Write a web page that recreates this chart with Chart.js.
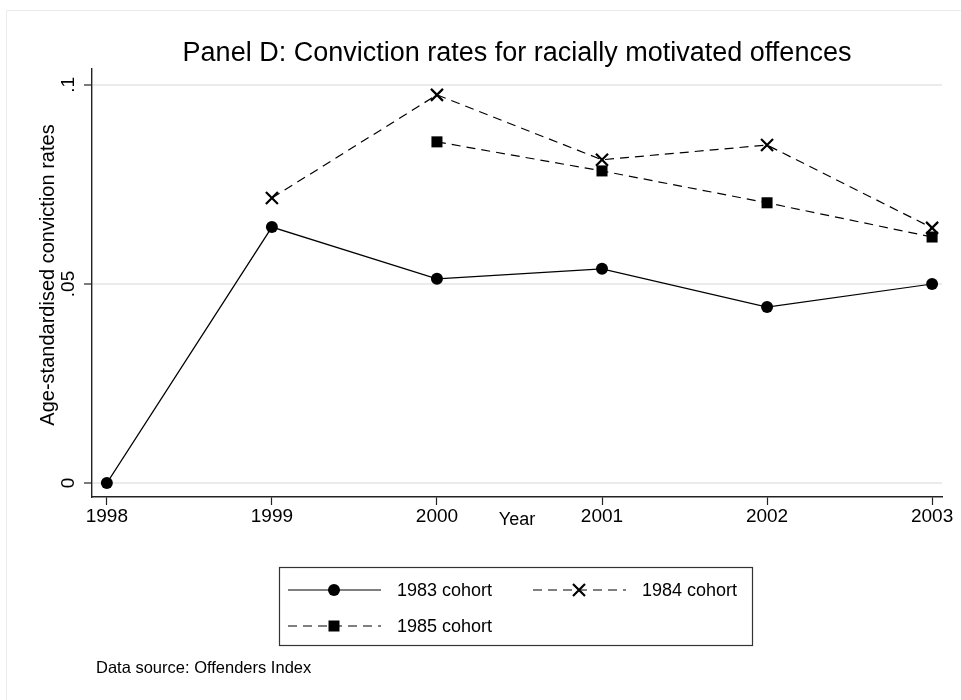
<!DOCTYPE html>
<html>
<head>
<meta charset="utf-8">
<title>Panel D: Conviction rates for racially motivated offences</title>
<script src="https://cdn.jsdelivr.net/npm/chart.js@4.4.1/dist/chart.umd.min.js"></script>
<style>
  html, body { margin: 0; padding: 0; background: #fff; }
  #wrap { width: 961px; height: 700px; position: relative; }
</style>
</head>
<body>
<div id="wrap"><canvas id="convictionChart" width="961" height="700"></canvas></div>
<script>
// Age-standardised conviction rates by cohort
const years = [1998, 1999, 2000, 2001, 2002, 2003];
const cohort1983Years = [1998, 1999, 2000, 2001, 2002, 2003];
const cohort1983 = [0, 0.0643, 0.0513, 0.0538, 0.0442, 0.0500];
const cohort1984Years = [1999, 2000, 2001, 2002, 2003];
const cohort1984 = [0.0716, 0.0975, 0.0812, 0.0849, 0.0641];
const cohort1985Years = [2000, 2001, 2002, 2003];
const cohort1985 = [0.0857, 0.0784, 0.0704, 0.0618];
const yTicks = [0, 0.05, 0.1];
const yTickLabels = ['0', '.05', '.1'];
const seriesLabels = ['1983 cohort', '1984 cohort', '1985 cohort'];

const FONT = "'Liberation Sans', Arial, Helvetica, sans-serif";
const DASH = [9, 6];

function toPoints(xs, ys) {
    return xs.map((x, i) => ({ x: x, y: ys[i] }));
}

// Titles, rotated y tick labels, legend box and source note
const decorations = {
    id: 'decorations',
    beforeDraw(chart) {
        const ctx = chart.ctx;
        ctx.save();
        ctx.fillStyle = '#fff';
        ctx.fillRect(0, 0, chart.width, chart.height);
        ctx.strokeStyle = '#ececec';
        ctx.lineWidth = 1;
        ctx.strokeRect(6.5, 10.5, chart.width, chart.height);
        ctx.restore();
    },
    afterDraw(chart) {
        const ctx = chart.ctx;
        const area = chart.chartArea;
        const yScale = chart.scales.y;
        const midX = (area.left + area.right) / 2;
        ctx.save();
        ctx.fillStyle = '#000';

        // main title
        ctx.font = '27px ' + FONT;
        ctx.textAlign = 'center';
        ctx.textBaseline = 'alphabetic';
        ctx.fillText('Panel D: Conviction rates for racially motivated offences', midX, 61);

        // y tick labels, rotated like the axis title
        ctx.font = '19px ' + FONT;
        yTicks.forEach((v, i) => {
            const py = yScale.getPixelForValue(v);
            ctx.save();
            ctx.translate(74, py);
            ctx.rotate(-Math.PI / 2);
            ctx.textAlign = 'center';
            ctx.fillText(yTickLabels[i], 0, 0);
            ctx.restore();
        });

        // y axis title
        ctx.font = '20px ' + FONT;
        ctx.save();
        ctx.translate(54, (area.top + area.bottom) / 2 - 8);
        ctx.rotate(-Math.PI / 2);
        ctx.textAlign = 'center';
        ctx.fillText('Age-standardised conviction rates', 0, 0);
        ctx.restore();

        // x axis title
        ctx.font = '18px ' + FONT;
        ctx.textAlign = 'center';
        ctx.fillText('Year', midX, 525);

        // legend
        const box = { left: 279.5, top: 567.5, width: 473, height: 78 };
        ctx.strokeStyle = '#333';
        ctx.lineWidth = 1.2;
        ctx.strokeRect(box.left, box.top, box.width, box.height);

        const items = [
            { x0: 288, y: 590, dash: [], marker: 'circle', label: seriesLabels[0] },
            { x0: 533, y: 590, dash: DASH, marker: 'cross', label: seriesLabels[1] },
            { x0: 288, y: 626, dash: DASH, marker: 'square', label: seriesLabels[2] }
        ];
        items.forEach(it => {
            const x1 = it.x0 + 93;
            const mx = it.x0 + 46;
            ctx.strokeStyle = '#000';
            ctx.lineWidth = 1.2;
            ctx.setLineDash(it.dash);
            ctx.beginPath();
            ctx.moveTo(it.x0, it.y);
            ctx.lineTo(x1, it.y);
            ctx.stroke();
            ctx.setLineDash([]);
            drawMarker(ctx, it.marker, mx, it.y);
            ctx.fillStyle = '#000';
            ctx.font = '18px ' + FONT;
            ctx.textAlign = 'left';
            ctx.textBaseline = 'middle';
            ctx.fillText(it.label, it.x0 + 109, it.y + 1);
        });

        // source note
        ctx.font = '16.5px ' + FONT;
        ctx.textAlign = 'left';
        ctx.textBaseline = 'alphabetic';
        ctx.fillText('Data source: Offenders Index', 96, 673);
        ctx.restore();
    }
};

function drawMarker(ctx, kind, x, y) {
    ctx.fillStyle = '#000';
    ctx.strokeStyle = '#000';
    if (kind === 'circle') {
        ctx.beginPath();
        ctx.arc(x, y, 6, 0, Math.PI * 2);
        ctx.fill();
    } else if (kind === 'square') {
        ctx.fillRect(x - 5.5, y - 5.5, 11, 11);
    } else {
        ctx.lineWidth = 2.2;
        ctx.beginPath();
        ctx.moveTo(x - 6, y - 6);
        ctx.lineTo(x + 6, y + 6);
        ctx.moveTo(x + 6, y - 6);
        ctx.lineTo(x - 6, y + 6);
        ctx.stroke();
    }
}

const ctx = document.getElementById('convictionChart').getContext('2d');
const chart = new Chart(ctx, {
    type: 'line',
    data: {
        datasets: [
            {
                label: seriesLabels[0],
                data: toPoints(cohort1983Years, cohort1983),
                borderColor: '#000',
                borderWidth: 1.2,
                pointStyle: 'circle',
                pointRadius: 6,
                pointBackgroundColor: '#000',
                pointBorderColor: '#000',
                pointBorderWidth: 0,
                tension: 0,
                order: 3
            },
            {
                label: seriesLabels[1],
                data: toPoints(cohort1984Years, cohort1984),
                borderColor: '#000',
                borderWidth: 1.2,
                borderDash: DASH,
                pointStyle: 'crossRot',
                pointRadius: 8.5,
                pointBorderColor: '#000',
                pointBorderWidth: 2.2,
                tension: 0,
                order: 2
            },
            {
                label: seriesLabels[2],
                data: toPoints(cohort1985Years, cohort1985),
                borderColor: '#000',
                borderWidth: 1.2,
                borderDash: DASH,
                pointStyle: 'rect',
                pointRadius: 7.8,
                pointBackgroundColor: '#000',
                pointBorderColor: '#000',
                pointBorderWidth: 0,
                tension: 0,
                order: 1
            }
        ]
    },
    options: {
        responsive: false,
        animation: false,
        events: [],
        layout: { padding: { top: 69, right: 19, bottom: 0, left: 0 } },
        plugins: {
            legend: { display: false },
            title: { display: false },
            tooltip: { enabled: false }
        },
        scales: {
            x: {
                type: 'linear',
                min: 1997.91,
                max: 2003.06,
                afterBuildTicks(scale) {
                    scale.ticks = years.map(v => ({ value: v }));
                },
                afterFit(scale) {
                    scale.height = 203;
                },
                border: { display: true, color: '#222', width: 1.4 },
                grid: {
                    drawOnChartArea: false,
                    drawTicks: true,
                    tickLength: 8,
                    tickColor: '#222',
                    tickWidth: 1.2
                },
                ticks: {
                    color: '#000',
                    font: { family: FONT, size: 19 },
                    padding: 0,
                    maxRotation: 0,
                    autoSkip: false,
                    callback: v => String(v)
                }
            },
            y: {
                type: 'linear',
                min: -0.0035,
                max: 0.104,
                afterBuildTicks(scale) {
                    scale.ticks = yTicks.map(v => ({ value: v }));
                },
                afterFit(scale) {
                    scale.width = 92;
                },
                border: { display: true, color: '#222', width: 1.4 },
                grid: {
                    color: '#ebebeb',
                    lineWidth: 2,
                    drawTicks: true,
                    tickLength: 8,
                    tickColor: '#222',
                    tickWidth: 1.2
                },
                ticks: {
                    color: 'rgba(0,0,0,0)',
                    font: { family: FONT, size: 19 }
                }
            }
        }
    },
    plugins: [decorations]
});
</script>
</body>
</html>
